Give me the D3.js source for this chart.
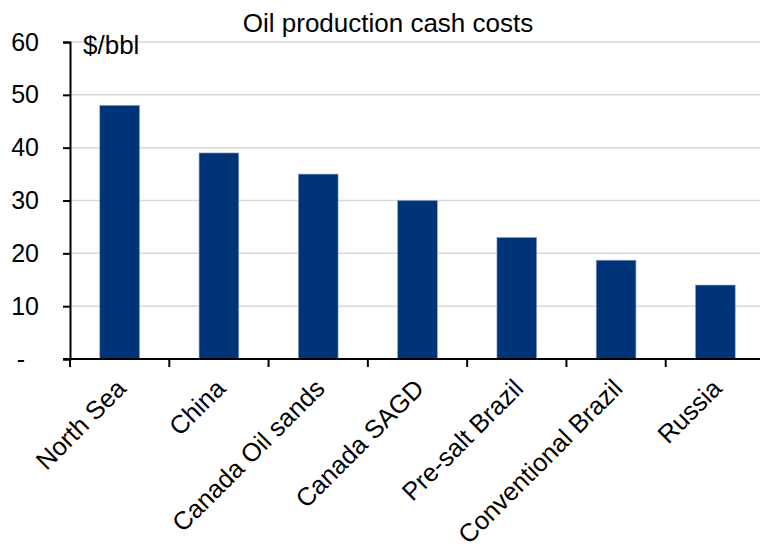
<!DOCTYPE html>
<html><head><meta charset="utf-8">
<script src="https://cdn.jsdelivr.net/npm/d3@7"></script>
<style>body{margin:0;background:#fff}svg{display:block;font-family:"Liberation Sans",Arial,sans-serif}</style>
</head><body><svg id="c" width="760" height="554"></svg>
<script>
const categories = ["North Sea","China","Canada Oil sands","Canada SAGD","Pre-salt Brazil","Conventional Brazil","Russia"];
const values = [48,39,35,30,23,18.7,14];
const yTicks = [0,10,20,30,40,50,60];
const yTickLabels = ["-","10","20","30","40","50","60"];
const title = "Oil production cash costs";
const unit = "$/bbl";

const svg = d3.select("#c");
const m = {left:70, right:-5, top:42, bottom:195};
const W = 760, H = 554;
const x = d3.scaleBand().domain(categories).range([m.left, W - m.right]).paddingInner(0.6).paddingOuter(0.3);
const y = d3.scaleLinear().domain([0,60]).range([H - m.bottom, m.top]);

// gridlines
svg.append("g").selectAll("line").data(yTicks.slice(1)).join("line")
  .attr("x1", m.left).attr("x2", W).attr("y1", d=>y(d)).attr("y2", d=>y(d))
  .attr("stroke","#d9d9d9").attr("stroke-width",1.5);

// bars
svg.append("g").selectAll("rect").data(values).join("rect")
  .attr("x",(d,i)=>x(categories[i])).attr("width",x.bandwidth())
  .attr("y",d=>y(d)).attr("height",d=>y(0)-y(d))
  .attr("fill","#003478").attr("stroke","#8fa3c7").attr("stroke-width",0.6);

// y axis
const ya = d3.axisLeft(y).tickValues(yTicks).tickSize(7).tickFormat((d,i)=>yTickLabels[i]);
const gy = svg.append("g").attr("transform",`translate(${m.left},0)`).call(ya);
gy.select(".domain").attr("stroke","#000").attr("stroke-width",2);
gy.selectAll(".tick line").attr("stroke","#000").attr("stroke-width",2);
gy.selectAll(".tick text").attr("x",(d)=> d===0 ? -45 : -31).attr("font-size",25).attr("fill","#000")
  .attr("font-family","'Liberation Sans',Arial,sans-serif");

// x axis with ticks at band boundaries
const step = x.step();
const gx = svg.append("g").attr("transform",`translate(0,${y(0)})`);
gx.append("line").attr("x1",m.left-7).attr("x2",W).attr("y1",0).attr("y2",0).attr("stroke","#000").attr("stroke-width",2);
const tickXs = categories.map(c => x(c) + x.bandwidth()/2 - step/2);
gx.selectAll("line.t").data(tickXs).join("line").attr("class","t")
  .attr("x1",d=>d).attr("x2",d=>d).attr("y1",0).attr("y2",8).attr("stroke","#000").attr("stroke-width",2);
gx.selectAll("text").data(categories).join("text")
  .attr("transform",c=>`translate(${x(c)+x.bandwidth()/2+8},${31}) rotate(-45)`)
  .attr("text-anchor","end").attr("font-size",25.5).attr("fill","#000").text(c=>c);

// title & unit
svg.append("text").attr("x",388).attr("y",32).attr("text-anchor","middle").attr("font-size",26).attr("fill","#000").text(title);
svg.append("text").attr("x",83).attr("y",54).attr("font-size",26).attr("fill","#000").text(unit);
</script></body></html>
